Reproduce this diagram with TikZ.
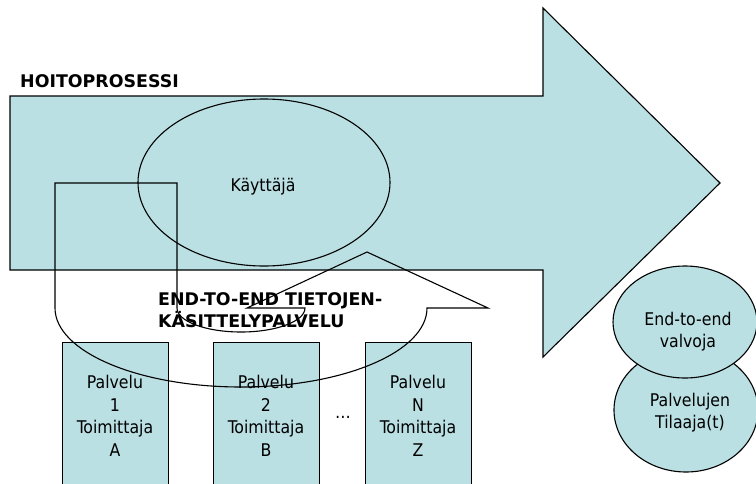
\documentclass[tikz,border=0pt]{standalone}
\usepackage{fontspec}
\setmainfont{DejaVu Sans}
\newfontfamily\condfont{DejaVu Sans Condensed}
\usetikzlibrary{shapes.geometric}
\definecolor{procfill}{RGB}{186,224,227}

\begin{document}
\begin{tikzpicture}[x=1pt, y=-1pt, line join=miter,
  outline/.style={draw=black, line width=1.1pt},
  boxstyle/.style={outline, fill=procfill, rectangle, inner sep=0pt, anchor=north west},
  ovalstyle/.style={ellipse, outline, fill=procfill, inner sep=0pt},
  bodytext/.style={font=\condfont\fontsize{17.5}{22.5}\selectfont, align=center, inner sep=0pt, text=black},
  headtext/.style={font=\bfseries\fontsize{17.4}{22}\selectfont, align=left, inner sep=0pt, text=black}]

% canvas
\clip (0,0) rectangle (756,483);
\fill[white] (0,0) rectangle (756,483);

% care process arrow
\draw[outline, fill=procfill] (10,96) coordinate (arrowtail) -- (543,96) -- (543,8)
  -- (720,183) coordinate (arrowtip) -- (543,357) -- (543,270) -- (10,270) -- cycle;
\node[headtext, anchor=base west] (proc) at (20,87) {HOITOPROSESSI};

% user
\node[ellipse, outline, minimum width=252pt, minimum height=167pt, inner sep=0pt] (user) at (264,182.5) {};
\node[bodytext, anchor=base] (usertxt) at (263,191) {Käyttäjä};

% service providers
\node[boxstyle, minimum width=106pt, minimum height=160pt] (s1) at (62,342) {};
\node[boxstyle, minimum width=106pt, minimum height=160pt] (s2) at (213,342) {};
\node[boxstyle, minimum width=106pt, minimum height=160pt] (s3) at (365,342) {};
\node[bodytext, anchor=north] (s1txt) at (115,375) {Palvelu\\1\\Toimittaja\\A};
\node[bodytext, anchor=north] (s2txt) at (266,375) {Palvelu\\2\\Toimittaja\\B};
\node[bodytext, anchor=north] (s3txt) at (418,375) {Palvelu\\N\\Toimittaja\\Z};
\node[bodytext, anchor=base] (dots) at (343,418) {…};

% end-to-end information processing service (callout outline)
\draw[outline] (55,183) coordinate (cstart) -- (177,183) -- (177,308)
  arc[start angle=180, end angle=0, x radius=64, y radius=24]
  -- (247,308) -- (367,252) coordinate (ctip) -- (488,308) -- (427,308)
  arc[start angle=0, end angle=180, x radius=186, y radius=79] -- cycle;
\node[headtext, anchor=north west] (e2e) at (158,292.4) {END-TO-END TIETOJEN-\\KÄSITTELYPALVELU};

% subscriber and monitor
\node[ovalstyle, minimum width=144pt, minimum height=124pt] (buyer) at (686,410) {};
\node[ovalstyle, minimum width=144pt, minimum height=112pt] (monitor) at (685,322) {};
\node[bodytext, anchor=base] (montxt) at (688,347.5) {End-to-end\\valvoja};
\node[bodytext, anchor=base] (buytxt) at (690,428.5) {Palvelujen\\Tilaaja(t)};
\end{tikzpicture}
\end{document}
